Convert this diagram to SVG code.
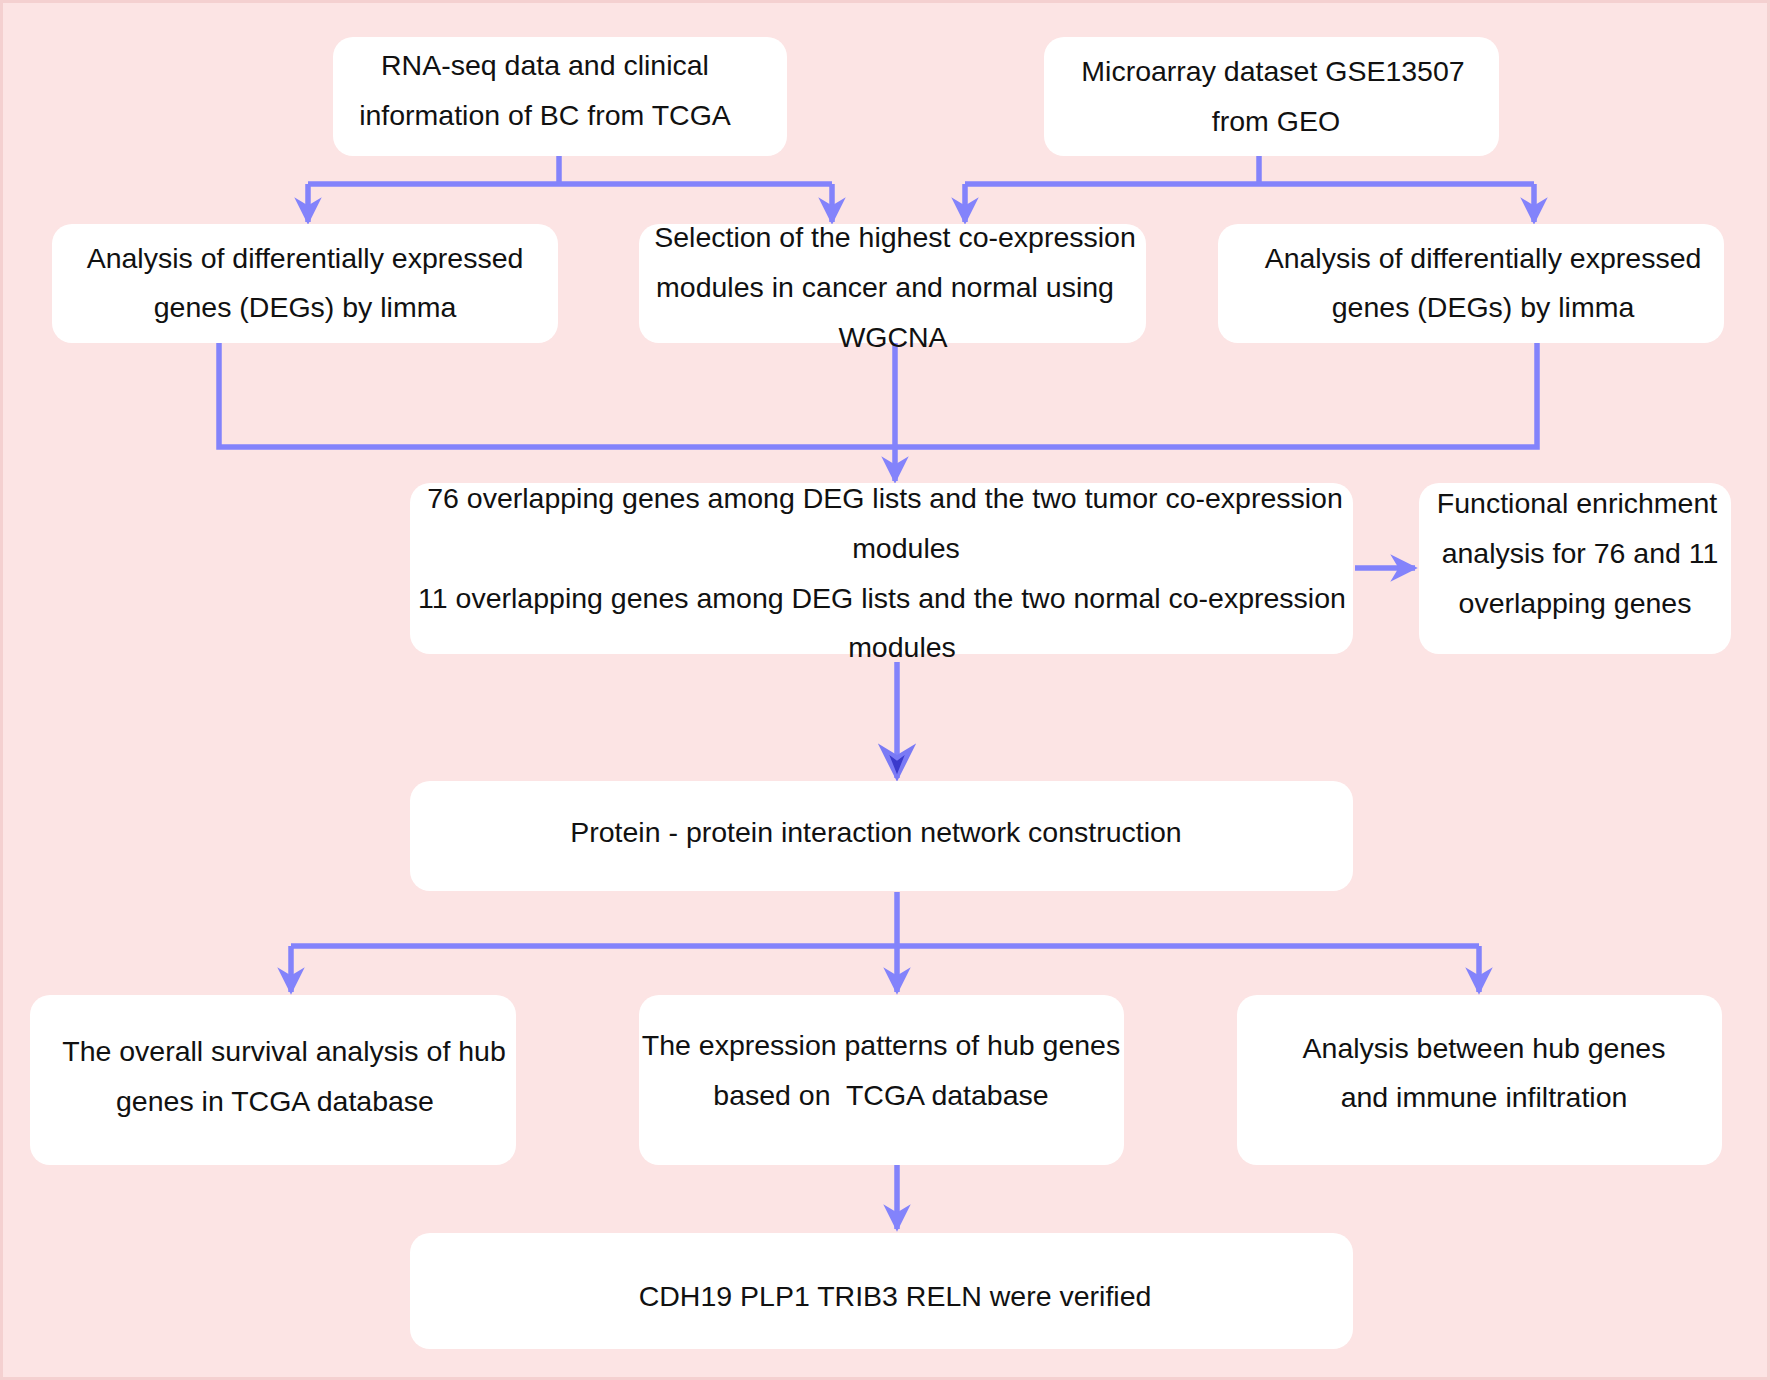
<svg xmlns="http://www.w3.org/2000/svg" width="1770" height="1380" viewBox="0 0 1770 1380">
<defs>
<marker id="ah" viewBox="0 0 10 10" refX="9" refY="5" markerWidth="5" markerHeight="5" orient="auto" markerUnits="strokeWidth">
<path d="M0,0 L10,5 L0,10 L3,5 z" fill="#8383fb"/>
</marker>
<marker id="ahb" viewBox="0 0 10 10" refX="9" refY="5" markerWidth="7" markerHeight="7" orient="auto" markerUnits="strokeWidth">
<path d="M0,0 L10,5 L0,10 L3,5 z" fill="#7a7af5"/>
<path d="M3,3 L8,5 L3,7 L4.5,5 z" fill="#3a3acc"/>
</marker>
</defs>
<style>
.n{fill:#fff}
.t{font-family:"Liberation Sans",Arial,sans-serif;font-size:28.5px;fill:#111;text-anchor:middle}
.c{fill:none;stroke:#8383fb;stroke-width:5.5}
</style>
<rect x="0" y="0" width="1770" height="1380" fill="#fce4e4"/>
<rect x="1.5" y="1.5" width="1767" height="1377" fill="none" stroke="#f4d0d0" stroke-width="3"/>
<g id="connectors">
<path class="c" d="M559,156 V184 M308,184 H832 M308,184 V222" marker-end="url(#ah)"/>
<path class="c" d="M832,184 V222" marker-end="url(#ah)"/>
<path class="c" d="M1259,156 V184 M965,184 H1534 M965,184 V222" marker-end="url(#ah)"/>
<path class="c" d="M1534,184 V222" marker-end="url(#ah)"/>
<path class="c" d="M219,343 V447 H1537 V343"/>
<path class="c" d="M895,343 V481" marker-end="url(#ah)"/>
<path class="c" d="M1355,568 H1415" marker-end="url(#ah)"/>
<path class="c" d="M897,662 V778" marker-end="url(#ahb)"/>
<path class="c" d="M897,892 V946 M291,946 H1479 M291,946 V992" marker-end="url(#ah)"/>
<path class="c" d="M897,946 V992" marker-end="url(#ah)"/>
<path class="c" d="M1479,946 V992" marker-end="url(#ah)"/>
<path class="c" d="M897,1165 V1229" marker-end="url(#ah)"/>
</g>
<g id="n1"><rect class="n" x="333" y="37" width="454" height="119" rx="20"/>
<text class="t" x="545" y="75">RNA-seq data and clinical</text><text class="t" x="545" y="125">information of BC from TCGA</text></g>
<g id="n2"><rect class="n" x="1044" y="37" width="455" height="119" rx="20"/>
<text class="t" x="1273" y="81">Microarray dataset GSE13507</text><text class="t" x="1276" y="131">from GEO</text></g>
<g id="n3"><rect class="n" x="52" y="224" width="506" height="119" rx="20"/>
<text class="t" x="305" y="268">Analysis of differentially expressed</text><text class="t" x="305" y="317">genes (DEGs) by limma</text></g>
<g id="n4"><rect class="n" x="639" y="224" width="507" height="119" rx="20"/>
<text class="t" x="895" y="247">Selection of the highest co-expression</text><text class="t" x="885" y="297">modules in cancer and normal using</text><text class="t" x="893" y="347">WGCNA</text></g>
<g id="n5"><rect class="n" x="1218" y="224" width="506" height="119" rx="20"/>
<text class="t" x="1483" y="268">Analysis of differentially expressed</text><text class="t" x="1483" y="317">genes (DEGs) by limma</text></g>
<g id="n6"><rect class="n" x="410" y="483" width="943" height="171" rx="20"/>
<text class="t" x="885" y="508">76 overlapping genes among DEG lists and the two tumor co-expression</text>
<text class="t" x="906" y="558">modules</text>
<text class="t" x="882" y="608">11 overlapping genes among DEG lists and the two normal co-expression</text>
<text class="t" x="902" y="657">modules</text></g>
<g id="n7"><rect class="n" x="1419" y="483" width="312" height="171" rx="20"/>
<text class="t" x="1577" y="513">Functional enrichment</text><text class="t" x="1580" y="563">analysis for 76 and 11</text><text class="t" x="1575" y="613">overlapping genes</text></g>
<g id="n8"><rect class="n" x="410" y="781" width="943" height="110" rx="20"/>
<text class="t" x="876" y="842">Protein - protein interaction network construction</text></g>
<g id="n9"><rect class="n" x="30" y="995" width="486" height="170" rx="20"/>
<text class="t" x="284" y="1061">The overall survival analysis of hub</text><text class="t" x="275" y="1111">genes in TCGA database</text></g>
<g id="n10"><rect class="n" x="639" y="995" width="485" height="170" rx="20"/>
<text class="t" x="881" y="1055">The expression patterns of hub genes</text><text class="t" x="881" y="1105">based on&#160; TCGA database</text></g>
<g id="n11"><rect class="n" x="1237" y="995" width="485" height="170" rx="20"/>
<text class="t" x="1484" y="1058">Analysis between hub genes</text><text class="t" x="1484" y="1107">and immune infiltration</text></g>
<g id="n12"><rect class="n" x="410" y="1233" width="943" height="116" rx="20"/>
<text class="t" x="895" y="1306">CDH19 PLP1 TRIB3 RELN were verified</text></g>
</svg>
